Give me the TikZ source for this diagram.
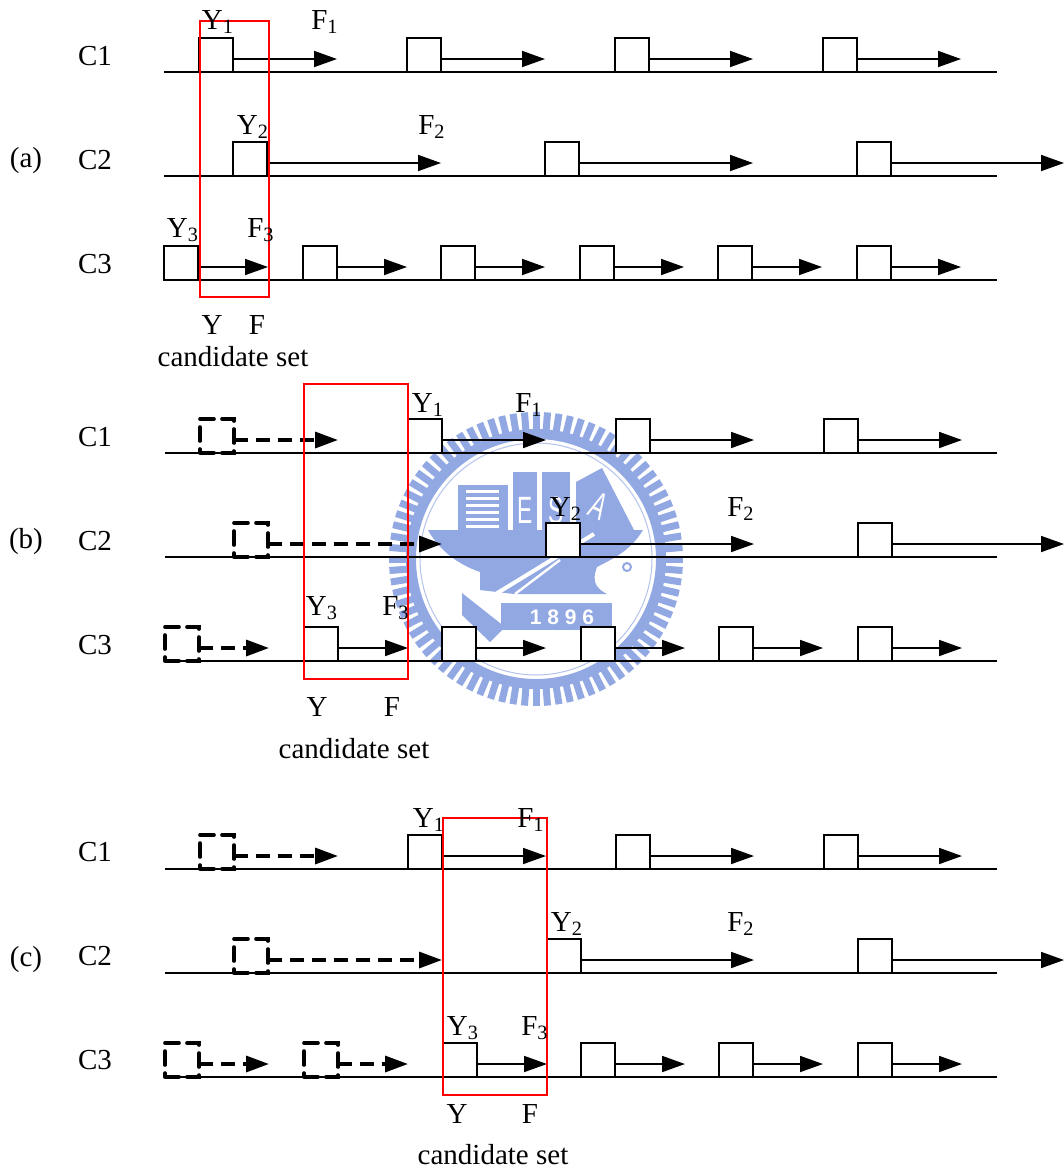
\documentclass[tikz,border=0pt]{standalone}
\usepackage{fontspec}
\setmainfont{Liberation Serif}
\setsansfont{Liberation Sans}
\usepackage{xcolor}
\usetikzlibrary{arrows.meta, calc}
\definecolor{logoblue}{RGB}{146,168,226}
\tikzset{
    >={Triangle[length=11.5pt, width=8pt]},
    lbl/.style={inner sep=0pt, font=\fontsize{14.5}{17}\selectfont},
    slot/.style={draw, rectangle, minimum size=17pt, inner sep=0pt, outer sep=0pt, anchor=south west, fill=white, line width=0.9pt},
    dslot/.style={draw, rectangle, minimum size=17pt, inner sep=0pt, outer sep=0pt, anchor=south west, line width=1.8pt, dash pattern=on 7pt off 4pt, line cap=round},
    base/.style={line width=0.9pt},
    span/.style={->, line width=0.9pt},
    dspan/.style={->, line width=1.7pt, dash pattern=on 7pt off 4pt},
    window/.style={draw=red, line width=0.8pt, anchor=north west, inner sep=0pt, outer sep=0pt},
    logotxt/.style={inner sep=0pt, text=white, font=\sffamily\fontsize{19}{21}\selectfont\addfontfeature{FakeStretch=0.6}}
}
\begin{document}
\begin{tikzpicture}[x=0.5pt, y=-0.5pt]
    \useasboundingbox (0,0) rectangle (1064,1169);

    % Watermark behind the figure
    \coordinate (logo) at (536,559);
    \foreach \a in {0,4.5,...,355.5} {
        \draw[logoblue, line width=3.5pt] ($(logo)+(\a:128)$) -- ($(logo)+(\a:147)$);
    }
    \draw[logoblue, line width=5pt] (logo) circle (125);
    \draw[logoblue!70, line width=0.5pt] (logo) circle (116);
    \fill[logoblue] (458,485) rectangle (508,532);
    \foreach \s in {490,497,...,525} {
        \fill[white] (466,\s) rectangle (499,\s+3);
    }
    \fill[logoblue] (513,472) rectangle (537,532);
    \fill[logoblue] (542,472) rectangle (570,532);
    \fill[logoblue] (576,482) -- (602,468) -- (634,530) -- (576,532) -- cycle;
    \fill[logoblue] (428,530) -- (643,530) .. controls (630,552) and (610,560) .. (597,567)
        .. controls (590,585) and (600,590) .. (607,594) -- (514,594) -- (480,590) -- (480,572)
        .. controls (460,565) and (440,552) .. (428,530) -- cycle;
    \draw[white, line width=2pt] (476,606) -- (594,534);
    \draw[white, line width=1.2pt] (515,594) -- (560,560);
    \fill[logoblue] (501,603) rectangle (612,630);
    \fill[logoblue] (462,593) -- (505,627) -- (490,642) -- (462,615) -- cycle;
    \draw[logoblue, line width=1pt] (627,567) circle (4);
    \node[logotxt, font=\sffamily\bfseries\fontsize{10.5}{12}\selectfont\addfontfeature{LetterSpace=28}] (year) at (562,617) {1896};
    \node[logotxt] (bookE) at (525,510) {E};
    \node[logotxt] (bookS) at (556,510) {S};
    \node[logotxt, rotate=-25] (bookA) at (599,506) {A};

    % Channel lines
    \foreach \r/\yl/\xl in {a1/72/164, a2/176/164, a3/280/164, b1/453/165, b2/557/165, b3/661/165, c1/869/165, c2/973/165, c3/1077/165} {
        \coordinate (\r L) at (\xl,\yl);
        \coordinate (\r R) at (997,\yl);
        \draw[base] (\r L) -- (\r R);
    }

    % Dashed slots that are already past
    \foreach \r/\yl/\boxes in {b1/453/{200/338}, b2/557/{234/442}, b3/661/{165/269}, c1/869/{200/338}, c2/973/{234/442}, c3/1077/{165/269,304/408}} {
        \foreach \x/\t [count=\i] in \boxes {
            \node[dslot] (\r d\i) at (\x,\yl) {};
            \coordinate (\r e\i) at (\t,\yl-13);
            \draw[dspan] (\r d\i.east |- \r e\i) -- (\r e\i);
        }
    }

    % Solid slots with their spans
    \foreach \r/\yl/\boxes in {
        a1/72/{199/337,407/545,615/753,823/961},
        a2/176/{233/441,545/753,857/1064},
        a3/280/{164/268,303/407,441/545,580/684,718/822,857/961},
        b1/453/{408/546,616/754,824/962},
        b2/557/{546/754,858/1064},
        b3/661/{304/408,442/546,581/685,719/823,858/962},
        c1/869/{408/546,616/754,824/962},
        c2/973/{547/754,858/1064},
        c3/1077/{443/547,581/685,719/823,858/962}} {
        \foreach \x/\t [count=\i] in \boxes {
            \node[slot] (\r b\i) at (\x,\yl) {};
            \coordinate (\r t\i) at (\t,\yl-13);
            \draw[span] (\r b\i.east |- \r t\i) -- (\r t\i);
        }
    }

    % Candidate set windows
    \node[window, minimum width=34.5pt, minimum height=138pt] (wina) at (200,21) {};
    \node[window, minimum width=52pt, minimum height=147.5pt] (winb) at (304,384) {};
    \node[window, minimum width=52pt, minimum height=138.5pt] (winc) at (443,818) {};

    % Row and part labels
    \foreach \n/\x/\y/\t in {
        ca1/95/56/C1, ca2/95/160/C2, ca3/95/264/C3,
        cb1/95/437/C1, cb2/95/541/C2, cb3/95/645/C3,
        cc1/95/852/C1, cc2/95/956/C2, cc3/95/1060/C3,
        pa/26/161/(a), pb/26/542/(b), pc/26/960/(c),
        ya/212/325/Y, fa/257/325/F, yb/317/707/Y, fb/392/707/F, yc/457/1114/Y, fc/530/1114/F} {
        \node[lbl] (\n) at (\x,\y) {\t};
    }
    \node[lbl] (seta) at (233,357) {candidate set};
    \node[lbl] (setb) at (354,749) {candidate set};
    \node[lbl] (setc) at (493,1155) {candidate set};

    % Start and finish labels of each window
    \foreach \n/\x/\y/\t/\k in {
        ya1/218/22/Y/1, fa1/325/22/F/1, ya2/253/127/Y/2, fa2/432/127/F/2, ya3/183/230/Y/3, fa3/261/230/F/3,
        yb1/428/405/Y/1, fb1/529/405/F/1, yb2/566/509/Y/2, fb2/741/509/F/2, yb3/322/608/Y/3, fb3/396/608/F/3,
        yc1/429/820/Y/1, fc1/531/820/F/1, yc2/567/924/Y/2, fc2/741/924/F/2, yc3/463/1028/Y/3, fc3/535/1028/F/3} {
        \node[lbl] (\n) at (\x,\y) {\t\textsubscript{\k}};
    }
\end{tikzpicture}
\end{document}
